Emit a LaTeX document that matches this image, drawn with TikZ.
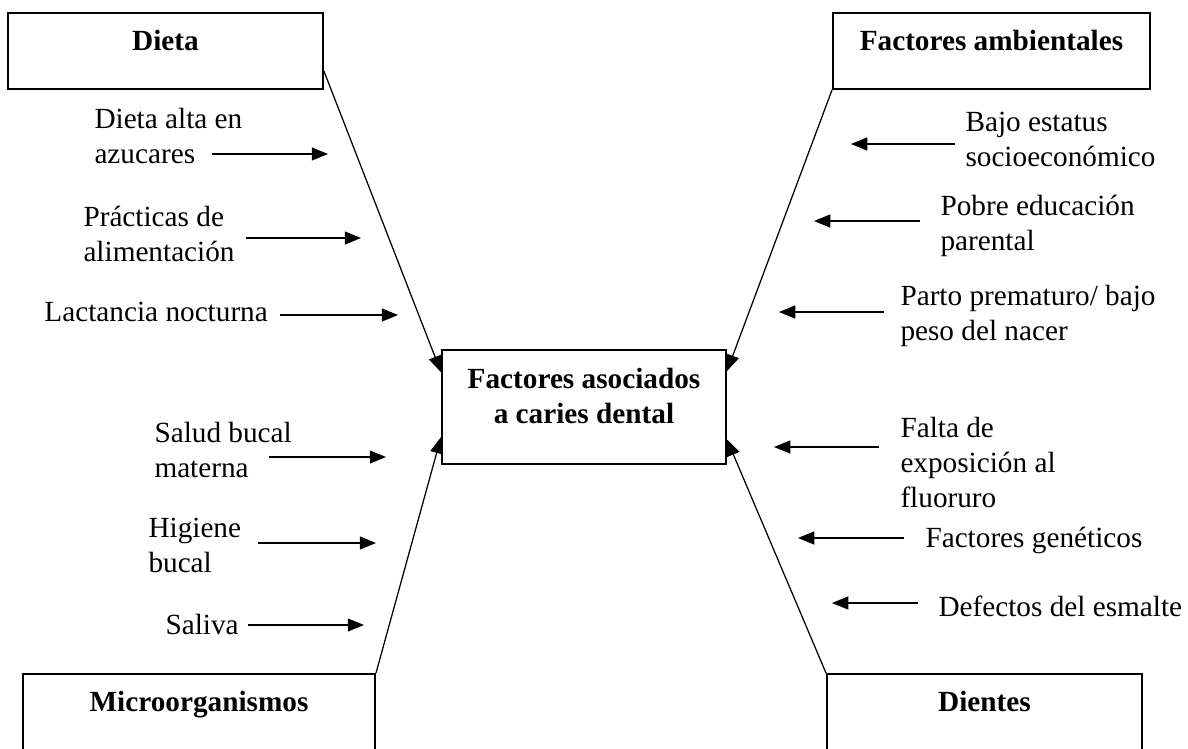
\documentclass[tikz,border=0pt]{standalone}
\usepackage{fontspec}
\setmainfont{Liberation Serif}
\usetikzlibrary{arrows.meta,calc}
\tikzstyle{cat} = [rectangle, draw=black, line width=0.8pt, anchor=north, font=\fontsize{11.7}{14}\selectfont\bfseries, text height=8pt, text depth=8.8pt, inner ysep=6.8pt]
\tikzstyle{mid} = [rectangle, draw=black, line width=0.8pt, minimum width=113.6pt, minimum height=45.6pt, align=center, text depth=9.2pt, font=\fontsize{11.7}{14}\selectfont\bfseries]
\tikzstyle{fac} = [anchor=north west, align=left, inner sep=0pt, font=\fontsize{11.7}{14}\selectfont]
\tikzstyle{fl} = [line width=0.5pt, -{Triangle[length=6.5pt,width=5.2pt]}]

\begin{document}
\begin{tikzpicture}[x=0.4pt,y=-0.4pt]
			\useasboundingbox (0,0) rectangle (1188,748);
			% cajas
			\node[cat,minimum width=126pt](dieta) at (165.5,12){Dieta};
			\node[cat,minimum width=126.8pt](amb) at (991.5,12){Factores ambientales};
			\node[cat,minimum width=140.8pt](micro) at (199,673){Microorganismos};
			\node[cat,minimum width=126pt](dient) at (984.5,673){Dientes};
			\node[mid](c) at (584,407){Factores asociados\\a caries dental};
			
			% factores
			\node[fac](f1) at (94,108){Dieta alta en\\azucares};
			\node[fac](f2) at (83,206){Prácticas de\\alimentación};
			\node[fac](f3) at (44,302){Lactancia nocturna};
			\node[fac](f4) at (154,422){Salud bucal\\materna};
			\node[fac](f5) at (148,518){Higiene\\bucal};
			\node[fac](f6) at (165,614){Saliva};
			\node[fac](g1) at (965,112){Bajo estatus\\socioeconómico};
			\node[fac](g2) at (940,195){Pobre educación\\parental};
			\node[fac](g3) at (900,285){Parto prematuro/ bajo\\peso del nacer};
			\node[fac](g4) at (900,417){Falta de\\exposición al\\fluoruro};
			\node[fac](g5) at (925,527){Factores genéticos};
			\node[fac](g6) at (938,595){Defectos del esmalte};
			
			\coordinate (a1s) at (212,154); \coordinate (a1e) at (328,154);
			\coordinate (a2s) at (246,238); \coordinate (a2e) at (361,238);
			\coordinate (a3s) at (280,315); \coordinate (a3e) at (398,315);
			\coordinate (a4s) at (269,457); \coordinate (a4e) at (386,457);
			\coordinate (a5s) at (258,543); \coordinate (a5e) at (376,543);
			\coordinate (a6s) at (248,625); \coordinate (a6e) at (364,625);
			\coordinate (b1s) at (955,144); \coordinate (b1e) at (851,144);
			\coordinate (b2s) at (920,221); \coordinate (b2e) at (814,221);
			\coordinate (b3s) at (884,312); \coordinate (b3e) at (779,312);
			\coordinate (b4s) at (879,447); \coordinate (b4e) at (774,447);
			\coordinate (b5s) at (904,538); \coordinate (b5e) at (798,538);
			\coordinate (b6s) at (918,603); \coordinate (b6e) at (832,603);
			
			% espinas
			\draw[fl] ($(dieta.north east)!0.76!(dieta.south east)$) -- ($(c.north west)!0.2!(c.south west)$);
			\draw[fl] (amb.south west) -- ($(c.north east)!0.19!(c.south east)$);
			\draw[fl] (micro.north east) -- ($(c.north west)!0.76!(c.south west)$);
			\draw[fl] (dient.north west) -- ($(c.north east)!0.78!(c.south east)$);
			
			\draw[fl] (a1s)--(a1e);
			\draw[fl] (a2s)--(a2e);
			\draw[fl] (a3s)--(a3e);
			\draw[fl] (a4s)--(a4e);
			\draw[fl] (a5s)--(a5e);
			\draw[fl] (a6s)--(a6e);
			\draw[fl] (b1s)--(b1e);
			\draw[fl] (b2s)--(b2e);
			\draw[fl] (b3s)--(b3e);
			\draw[fl] (b4s)--(b4e);
			\draw[fl] (b5s)--(b5e);
			\draw[fl] (b6s)--(b6e);
			\end{tikzpicture}
\end{document}
